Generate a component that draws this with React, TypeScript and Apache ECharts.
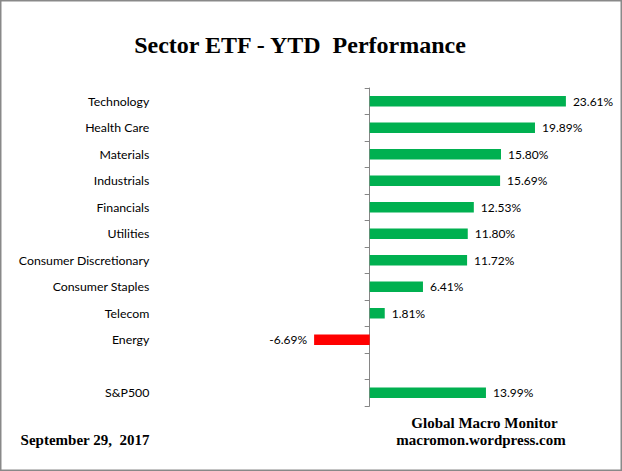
import React, { useEffect, useRef } from "react";
import * as echarts from "echarts";

const categories = [
  "Technology",
  "Health Care",
  "Materials",
  "Industrials",
  "Financials",
  "Utilities",
  "Consumer Discretionary",
  "Consumer Staples",
  "Telecom",
  "Energy",
  "",
  "S&P500",
];
const values: (number | null)[] = [
  23.61, 19.89, 15.8, 15.69, 12.53, 11.8, 11.72, 6.41, 1.81, -6.69, null, 13.99,
];
const titleText = "Sector ETF - YTD  Performance";
const dateText = "September 29,  2017";
const sourceLine1 = "Global Macro Monitor";
const sourceLine2 = "macromon.wordpress.com";

export default function App() {
  const ref = useRef<HTMLDivElement>(null);
  useEffect(() => {
    if (!ref.current) return;
    const chart = echarts.init(ref.current, null, { renderer: "svg" });
    const serif = "'Liberation Serif', 'Times New Roman', serif";
    const sans = "Lato, 'Open Sans', sans-serif";
    chart.setOption({
      animation: false,
      backgroundColor: "#ffffff",
      grid: {
        left: 286.6,
        right: 3,
        top: 88,
        bottom: 65,
        containLabel: false,
        outerBoundsMode: "none",
      },
      xAxis: {
        type: "value",
        min: -10,
        max: 30,
        show: false,
      },
      yAxis: {
        type: "category",
        data: categories,
        inverse: true,
        axisLine: { show: true, onZero: true, lineStyle: { color: "#868686", width: 1 } },
        axisTick: { show: true, length: 5, interval: 0, lineStyle: { color: "#868686" } },
        axisLabel: {
          interval: 0,
          margin: 137.3,
          color: "#000000",
          fontFamily: sans,
          fontSize: 12.3,
          align: "right",
        },
        splitLine: { show: false },
      },
      series: [
        {
          type: "bar",
          barWidth: 10.5,
          data: values.map((v) =>
            v == null
              ? "-"
              : {
                  value: v,
                  itemStyle: { color: v < 0 ? "#FF0000" : "#00B050" },
                  label: { position: v < 0 ? "left" : "right" },
                }
          ),
          label: {
            show: true,
            distance: 7,
            color: "#000000",
            fontFamily: sans,
            fontSize: 12,
            formatter: (p: any) => Number(p.value).toFixed(2) + "%",
          },
        },
      ],
      graphic: [
        {
          type: "rect",
          shape: { x: 0.75, y: 0.75, width: 620.5, height: 469.5 },
          style: { fill: "none", stroke: "#898989", lineWidth: 1.5 },
          silent: true,
        },
        {
          type: "text",
          x: 300,
          y: 45,
          style: {
            text: titleText,
            font: `bold 24px ${serif}`,
            fill: "#000000",
            align: "center",
            verticalAlign: "middle",
          },
        },
        {
          type: "text",
          x: 20.6,
          y: 440,
          style: {
            text: dateText,
            font: `bold 15px ${serif}`,
            fill: "#000000",
            align: "left",
            verticalAlign: "middle",
          },
        },
        {
          type: "text",
          x: 484.5,
          y: 423,
          style: {
            text: sourceLine1,
            font: `bold 15px ${serif}`,
            fill: "#000000",
            align: "center",
            verticalAlign: "middle",
          },
        },
        {
          type: "text",
          x: 481,
          y: 440,
          style: {
            text: sourceLine2,
            font: `bold 15px ${serif}`,
            fill: "#000000",
            align: "center",
            verticalAlign: "middle",
          },
        },
      ],
    });
    return () => chart.dispose();
  }, []);
  return (
    <div
      ref={ref}
      style={{ position: "fixed", left: 0, top: 0, width: 622, height: 471 }}
    />
  );
}
